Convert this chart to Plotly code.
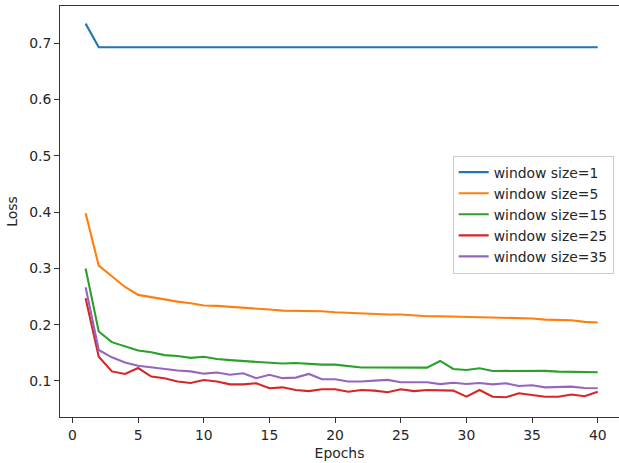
import plotly.graph_objects as go

epochs = list(range(1, 41))

loss_w1 = [0.735, 0.693, 0.693, 0.693, 0.693, 0.693, 0.693, 0.693, 0.693, 0.693,
           0.693, 0.693, 0.693, 0.693, 0.693, 0.693, 0.693, 0.693, 0.693, 0.693,
           0.693, 0.693, 0.693, 0.693, 0.693, 0.693, 0.693, 0.693, 0.693, 0.693,
           0.693, 0.693, 0.693, 0.693, 0.693, 0.693, 0.693, 0.693, 0.693, 0.693]
loss_w5 = [0.398, 0.305, 0.286, 0.267, 0.253, 0.249, 0.244, 0.241, 0.238, 0.234,
           0.2335, 0.232, 0.230, 0.2295, 0.227, 0.225, 0.225, 0.225, 0.224, 0.222,
           0.221, 0.219, 0.219, 0.218, 0.218, 0.216, 0.215, 0.215, 0.2145, 0.214,
           0.213, 0.212, 0.2115, 0.211, 0.211, 0.209, 0.209, 0.208, 0.205, 0.204]
loss_w15 = [0.300, 0.188, 0.169, 0.161, 0.154, 0.151, 0.146, 0.1445, 0.141, 0.143,
            0.139, 0.137, 0.1355, 0.134, 0.1335, 0.131, 0.132, 0.130, 0.129, 0.129,
            0.126, 0.124, 0.124, 0.124, 0.125, 0.124, 0.1237, 0.1356, 0.1214, 0.1196,
            0.1225, 0.1178, 0.118, 0.1178, 0.118, 0.118, 0.1166, 0.1163, 0.1163, 0.1154]
loss_w25 = [0.247, 0.143, 0.117, 0.1125, 0.123, 0.1078, 0.105, 0.099, 0.0965, 0.1018,
            0.099, 0.094, 0.094, 0.096, 0.087, 0.0887, 0.084, 0.082, 0.0852, 0.0852,
            0.081, 0.084, 0.0828, 0.080, 0.0852, 0.082, 0.084, 0.084, 0.0828, 0.0721,
            0.084, 0.0721, 0.071, 0.0781, 0.075, 0.0721, 0.0721, 0.076, 0.073, 0.081]
loss_w35 = [0.2667, 0.155, 0.142, 0.133, 0.127, 0.124, 0.121, 0.1187, 0.117, 0.113,
            0.115, 0.111, 0.1137, 0.105, 0.111, 0.105, 0.106, 0.1125, 0.103, 0.103,
            0.099, 0.099, 0.1007, 0.1019, 0.0977, 0.0977, 0.0977, 0.0945, 0.0969, 0.0947,
            0.0965, 0.094, 0.0959, 0.0911, 0.0923, 0.0887, 0.0899, 0.0899, 0.0876, 0.087]

series_names = ["window size=1", "window size=5", "window size=15",
                "window size=25", "window size=35"]
series_values = [loss_w1, loss_w5, loss_w15, loss_w25, loss_w35]
colors = ["#1f77b4", "#ff7f0e", "#2ca02c", "#d62728", "#9467bd"]

x_ticks = [0, 5, 10, 15, 20, 25, 30, 35, 40]
y_ticks = [0.1, 0.2, 0.3, 0.4, 0.5, 0.6, 0.7]

FONT = "DejaVu Sans"
FS = 13.9

fig = go.Figure()
for name, vals, c in zip(series_names, series_values, colors):
    fig.add_trace(go.Scatter(x=epochs, y=vals, mode="lines", name=name,
                             line=dict(color=c, width=2.1)))

fig.update_layout(
    width=619, height=463,
    margin=dict(l=60, r=0, t=6, b=46),
    paper_bgcolor="white", plot_bgcolor="white",
    font=dict(family=FONT, size=FS, color="#262626"),
    showlegend=True,
    legend=dict(x=0.7025, y=0.636, xanchor="left", yanchor="top",
                bgcolor="rgba(255,255,255,0.8)", bordercolor="#cccccc", borderwidth=1,
                font=dict(family=FONT, size=FS, color="#262626"),
                itemwidth=30),
    xaxis=dict(range=[-0.95, 41.62], tickvals=x_ticks, ticktext=[str(t) for t in x_ticks],
               showgrid=False, zeroline=False, showline=True, linecolor="#333333",
               linewidth=1, mirror=True, ticks="outside", ticklen=5, tickcolor="#333333",
               title=dict(text="Epochs", standoff=6, font=dict(family=FONT, size=FS))),
    yaxis=dict(range=[0.036, 0.7663], tickvals=y_ticks, ticktext=[f"{t:.1f}" for t in y_ticks],
               showgrid=False, zeroline=False, showline=True, linecolor="#333333",
               linewidth=1, ticks="outside", ticklen=5, tickcolor="#333333",
               title=dict(text="Loss", standoff=8, font=dict(family=FONT, size=FS))),
)

fig.write_html("out.html")
